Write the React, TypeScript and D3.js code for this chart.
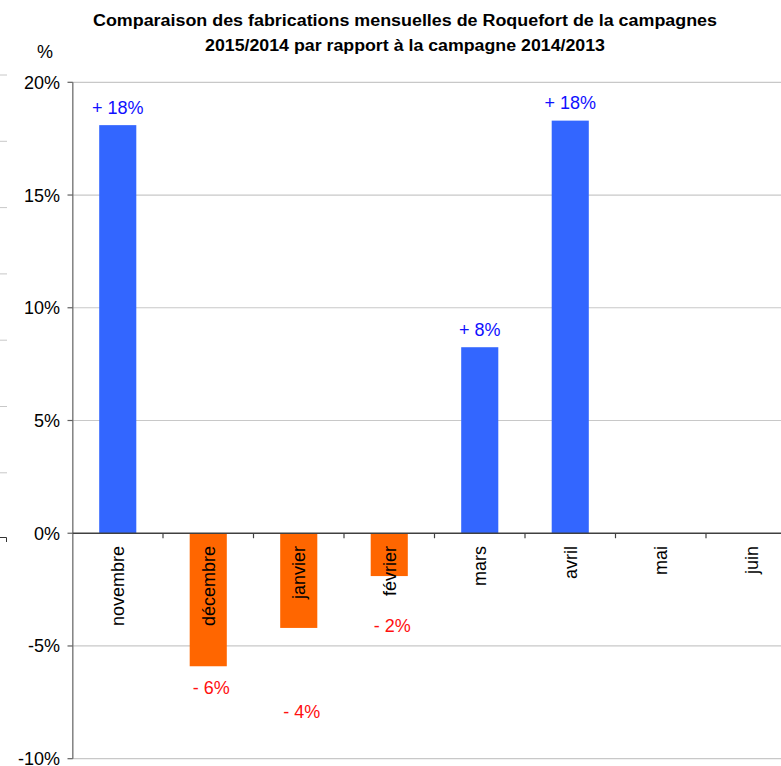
import React from "react";
import * as d3 from "d3";

const categories = ["novembre", "décembre", "janvier", "février", "mars", "avril", "mai", "juin"];
const values: (number | null)[] = [18.1, -5.9, -4.2, -1.9, 8.25, 18.3, null, null];
const labels: (string | null)[] = ["+ 18%", "- 6%", "- 4%", "- 2%", "+ 8%", "+ 18%", null, null];
// label anchor positions, in percent units
const labelAt: (number | null)[] = [18.9, -6.85, -7.9, -4.1, 9.05, 19.1, null, null];
const yTicks = [20, 15, 10, 5, 0, -5, -10];
const titleLines = [
  "Comparaison des fabrications mensuelles de Roquefort de la campagnes",
  "2015/2014 par rapport à la campagne 2014/2013",
];
const sideMarks = [0, 1, 2, 3, 4, 5, 6];

const W = 781;
const H = 766;
const FONT = "'Liberation Sans', Arial, sans-serif";
const FS = 18;

export default function App() {
  const y = d3.scaleLinear().domain([-10, 20]).range([758.7, 82.3]);
  const x = d3.scaleBand<string>().domain(categories).range([72.5, 796.5]).padding(0);
  const bw = x.bandwidth() * 0.41;
  const sideY = d3.scaleLinear().domain([0, 1]).range([75, 141.3]);

  return (
    <svg
      width={W}
      height={H}
      style={{ position: "absolute", left: 0, top: 0, background: "#fff" }}
      fontFamily={FONT}
    >
      {/* artifacts at left edge */}
      {sideMarks.map((i) => (
        <line key={i} x1={0} x2={7} y1={sideY(i)} y2={sideY(i)} stroke="#c8c8c8" strokeWidth={1} />
      ))}
      <path d="M0,537.5 H6.5 V542" fill="none" stroke="#333" strokeWidth={1} />

      {/* title */}
      <text x={405} y={26} textAnchor="middle" fontSize={16} fontWeight="bold" fill="#000" textLength={624} lengthAdjust="spacingAndGlyphs">
        {titleLines[0]}
      </text>
      <text x={405} y={51} textAnchor="middle" fontSize={16} fontWeight="bold" fill="#000" textLength={400} lengthAdjust="spacingAndGlyphs">
        {titleLines[1]}
      </text>

      <text x={45} y={58} textAnchor="middle" fontSize={FS} fill="#000">%</text>

      {/* gridlines */}
      {yTicks.filter((t) => t !== 0).map((t) => (
        <line key={t} x1={73} x2={W} y1={y(t)} y2={y(t)} stroke="#c8c8c8" strokeWidth={1.2} />
      ))}

      {/* bars */}
      {categories.map((c, i) => {
        const v = values[i];
        if (v == null) return null;
        const cx = (x(c) as number) + x.bandwidth() / 2;
        return (
          <rect
            key={c}
            x={cx - bw / 2}
            width={bw}
            y={Math.min(y(v), y(0))}
            height={Math.abs(y(v) - y(0))}
            fill={v >= 0 ? "#3366FF" : "#FF6600"}
          />
        );
      })}

      {/* y axis */}
      <line x1={72.8} x2={72.8} y1={y(20)} y2={y(-10)} stroke="#808080" strokeWidth={1.5} />
      {yTicks.map((t) => (
        <g key={t}>
          <line x1={67.5} x2={72.8} y1={y(t)} y2={y(t)} stroke="#606060" strokeWidth={1.2} />
          <text x={60} y={y(t) + 6.5} textAnchor="end" fontSize={FS} fill="#000">
            {`${t}%`}
          </text>
        </g>
      ))}

      {/* x axis */}
      <line x1={72.8} x2={W} y1={y(0)} y2={y(0)} stroke="#404040" strokeWidth={1.3} />
      {categories.map((c) => (
        <line
          key={c}
          x1={(x(c) as number) + x.bandwidth()}
          x2={(x(c) as number) + x.bandwidth()}
          y1={y(0)}
          y2={y(0) + 5}
          stroke="#404040"
          strokeWidth={1.2}
        />
      ))}
      {categories.map((c) => {
        const cx = (x(c) as number) + x.bandwidth() / 2;
        return (
          <text
            key={c}
            transform={`translate(${cx + 6.5},${546}) rotate(-90)`}
            textAnchor="end"
            fontSize={FS}
            fill="#000"
          >
            {c}
          </text>
        );
      })}

      {/* data labels */}
      {categories.map((c, i) => {
        const l = labels[i];
        const p = labelAt[i];
        const v = values[i];
        if (l == null || p == null || v == null) return null;
        const cx = (x(c) as number) + x.bandwidth() / 2;
        return (
          <text
            key={c}
            x={cx + (v < 0 ? 3 : 0)}
            y={y(p) + 6.5}
            textAnchor="middle"
            fontSize={FS}
            fill={v >= 0 ? "#1010ff" : "#ff1010"}
          >
            {l}
          </text>
        );
      })}
    </svg>
  );
}
